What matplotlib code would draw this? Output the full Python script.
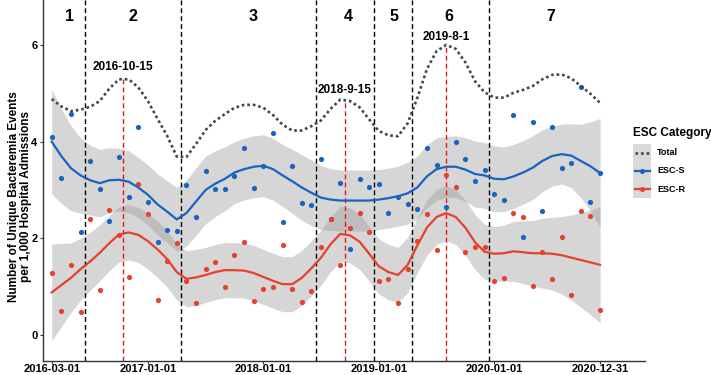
import numpy as np
import pandas as pd
import matplotlib
matplotlib.use("Agg")
import matplotlib.pyplot as plt
from matplotlib.lines import Line2D
from matplotlib.patches import Rectangle

plt.rcParams['font.family'] = ['Liberation Sans', 'DejaVu Sans']
plt.rcParams['font.weight'] = 'bold'

# ---------------- data ----------------
months = pd.period_range('2016-03', '2020-12', freq='M')

esc_s = [4.10, 3.24, 4.57, 2.12, 3.59, 3.01, 2.36, 3.68, 2.86, 4.30,
         2.74, 1.92, 2.17, 2.14, 3.10, 2.45, 3.39, 3.01, 3.01, 3.29,
         3.87, 3.03, 3.50, 4.17, 2.34, 3.50, 2.72, 2.69, 3.65, 2.40,
         3.14, 1.77, 3.22, 3.07, 3.12, 2.53, 2.85, 2.70, 2.60, 3.87,
         3.51, 2.64, 3.99, 3.64, 3.18, 3.41, 2.91, 2.79, 4.55, 2.03,
         4.40, 2.56, 4.31, 3.46, 3.55, 5.12, 2.75, 3.34]
esc_r = [1.28, 0.50, 1.45, 0.48, 2.40, 0.93, 2.59, 2.07, 1.19, 3.12,
         2.51, 0.72, 1.53, 1.90, 1.12, 0.67, 1.36, 1.51, 1.00, 1.65,
         1.93, 0.70, 0.94, 0.99, 1.87, 0.94, 0.68, 0.90, 1.82, 2.40,
         1.45, 2.21, 2.53, 2.12, 1.11, 1.15, 0.66, 1.36, 1.95, 2.50,
         1.76, 3.30, 3.06, 1.72, 1.82, 1.82, 1.12, 1.17, 2.53, 2.43,
         1.01, 1.72, 1.15, 2.02, 0.82, 2.56, 2.47, 0.52]

# smoothed fits and half-widths of their bands
esc_s_fit = [4.00, 3.70, 3.45, 3.30, 3.20, 3.14, 3.20, 3.21, 3.17, 3.05,
             2.90, 2.70, 2.55, 2.39, 2.52, 2.76, 3.00, 3.13, 3.23, 3.36,
             3.43, 3.48, 3.50, 3.43, 3.30, 3.18, 3.05, 2.94, 2.84, 2.80,
             2.78, 2.78, 2.78, 2.78, 2.80, 2.83, 2.87, 2.93, 3.05, 3.28,
             3.43, 3.48, 3.48, 3.42, 3.33, 3.30, 3.23, 3.22, 3.28, 3.36,
             3.46, 3.60, 3.70, 3.74, 3.71, 3.60, 3.49, 3.35]
esc_r_fit = [0.88, 1.03, 1.18, 1.36, 1.52, 1.70, 1.90, 2.08, 2.12, 2.07,
             1.94, 1.77, 1.57, 1.30, 1.16, 1.19, 1.24, 1.30, 1.34, 1.34,
             1.33, 1.28, 1.20, 1.12, 1.05, 1.05, 1.18, 1.38, 1.60, 1.88,
             2.09, 2.06, 1.93, 1.68, 1.42, 1.30, 1.24, 1.45, 1.85, 2.22,
             2.44, 2.52, 2.44, 2.22, 1.92, 1.72, 1.68, 1.69, 1.73, 1.71,
             1.69, 1.69, 1.68, 1.65, 1.60, 1.55, 1.50, 1.45]
esc_s_se = [1.08, 0.98, 0.88, 0.78, 0.72, 0.70, 0.67, 0.65, 0.64, 0.62,
            0.62, 0.63, 0.64, 0.66, 0.68, 0.70, 0.70, 0.68, 0.66, 0.64,
            0.64, 0.64, 0.64, 0.64, 0.64, 0.66, 0.68, 0.68, 0.66, 0.64,
            0.63, 0.63, 0.63, 0.63, 0.62, 0.62, 0.62, 0.64, 0.65, 0.65,
            0.65, 0.63, 0.64, 0.66, 0.68, 0.68, 0.68, 0.67, 0.66, 0.66,
            0.66, 0.64, 0.62, 0.62, 0.66, 0.76, 0.92, 1.13]
esc_r_se = [1.00, 0.86, 0.72, 0.64, 0.60, 0.58, 0.57, 0.57, 0.57, 0.57,
            0.58, 0.58, 0.58, 0.58, 0.58, 0.58, 0.57, 0.57, 0.57, 0.57,
            0.57, 0.57, 0.57, 0.57, 0.57, 0.57, 0.57, 0.57, 0.57, 0.57,
            0.57, 0.57, 0.57, 0.57, 0.57, 0.57, 0.57, 0.57, 0.57, 0.57,
            0.57, 0.57, 0.57, 0.57, 0.57, 0.57, 0.56, 0.58, 0.62, 0.65,
            0.68, 0.72, 0.75, 0.80, 0.88, 0.98, 1.08, 1.20]

period_breaks = ['2016-06-15', '2017-04-15', '2018-06-15',
                 '2018-12-15', '2019-04-15', '2019-12-15']
event_dates = ['2016-10-15', '2018-9-15', '2019-8-1']
event_label_y = [5.55, 5.07, 6.16]
period_labels = ['1', '2', '3', '4', '5', '6', '7']
period_label_dates = ['2016-04-25', '2016-11-15', '2017-11-28', '2018-09-25',
                      '2019-02-18', '2019-08-10', '2020-06-28']
tick_labels = ['2016-03-01', '2017-01-01', '2018-01-01',
               '2019-01-01', '2020-01-01', '2020-12-31']
legend_labels = ['Total', 'ESC-S', 'ESC-R']

# ---------------- helpers ----------------
start = months[0]


def mpos(s):
    d = pd.Timestamp(s)
    return (d.year - start.year) * 12 + (d.month - start.month) + (d.day - 1) / d.days_in_month


def mtick(s):
    return (pd.Period(s, freq='M') - start).n


W, H = 711, 375


def fx(px):
    return px / W


def fy(py):
    return 1 - py / H


x = np.arange(len(months))
s_fit = np.array(esc_s_fit)
r_fit = np.array(esc_r_fit)
s_se = np.array(esc_s_se)
r_se = np.array(esc_r_se)
total_fit = s_fit + r_fit

BLUE = '#1763C2'
RED = '#E5412B'
TOTAL = '#3D4754'
RIB = '#999999'
DOTTED = (0, (1, 1.1))
DASHED = (0, (3.5, 2.2))

fig = plt.figure(figsize=(7.11, 3.75), dpi=100)
ax = fig.add_axes([fx(43), 1 - fy(0) + (H - 361) / H, fx(645) - fx(43), 361 / H])

ax.fill_between(x, s_fit - s_se, s_fit + s_se, color=RIB, alpha=0.4, lw=0, zorder=1)
ax.fill_between(x, r_fit - r_se, r_fit + r_se, color=RIB, alpha=0.4, lw=0, zorder=1)

ax.scatter(x, esc_s, s=14, color=BLUE, linewidths=0, zorder=3)
ax.scatter(x, esc_r, s=14, color=RED, linewidths=0, zorder=3)

ax.plot(x, s_fit, color=BLUE, lw=1.6, zorder=4)
ax.plot(x, r_fit, color=RED, lw=1.6, zorder=4)
ax.plot(x, total_fit, color=TOTAL, lw=1.9, ls=DOTTED, zorder=4)

ylim = (-0.54, 6.93)
for b in period_breaks:
    ax.axvline(mpos(b), color='black', lw=1.0, ls=DASHED, zorder=2)

for e, ly in zip(event_dates, event_label_y):
    p = mpos(e)
    top = np.interp(p, x, total_fit)
    ax.vlines(p, ylim[0], top, color='#F0141E', lw=1.0, ls=DASHED, zorder=2)
    ax.text(p, ly, e, ha='center', va='center', fontsize=8.5,
            fontweight='bold', color='black', zorder=6)

trans = ax.get_xaxis_transform()
for lab, d in zip(period_labels, period_label_dates):
    ax.text(mpos(d), 0.953, lab, transform=trans, ha='center', va='center',
            fontsize=11.5, fontweight='bold')

ax.set_xlim(-0.904, 61.67)
ax.set_ylim(*ylim)
ax.set_xticks([mtick(t) for t in tick_labels])
ax.set_xticklabels(tick_labels)
ax.set_yticks([0, 2, 4, 6])
ax.tick_params(axis='x', length=2, width=0.8, color='#333333', labelsize=8, pad=0.3)
ax.tick_params(axis='y', length=2.5, width=0.8, color='#333333', labelsize=8, pad=1.5)
for side in ['top', 'right']:
    ax.spines[side].set_visible(False)
for side in ['left', 'bottom']:
    ax.spines[side].set_color('#333333')
    ax.spines[side].set_linewidth(1.0)

fig.text(fx(20), fy(197),
         'Number of Unique Bacteremia Events\nper 1,000 Hospital Admissions',
         rotation=90, ha='center', va='center', multialignment='center',
         fontsize=8.5, fontweight='bold', linespacing=1.1)

# ---------------- legend ----------------
fig.text(fx(633), fy(133), 'ESC Category', ha='left', va='center',
         fontsize=8.5, fontweight='bold')
key_top, key_h = 143.5, 18.3
fig.add_artist(Rectangle((fx(633), fy(key_top + 3 * key_h)), fx(651) - fx(633),
                         3 * key_h / H, transform=fig.transFigure,
                         facecolor='#D9D9D9', edgecolor='none'))
styles = [dict(color=TOTAL, lw=1.9, ls=DOTTED),
          dict(color=BLUE, lw=1.6),
          dict(color=RED, lw=1.6)]
for k, (lab, st) in enumerate(zip(legend_labels, styles)):
    yc = key_top + key_h * (k + 0.5)
    fig.add_artist(Line2D([fx(635), fx(649.5)], [fy(yc), fy(yc)],
                          transform=fig.transFigure, **st))
    if k > 0:
        fig.add_artist(Line2D([fx(642.2)], [fy(yc)], transform=fig.transFigure,
                              marker='o', ms=3.6, mew=0, color=st['color'], ls='none'))
    fig.text(fx(657), fy(yc), lab, ha='left', va='center', fontsize=6.5,
             fontweight='bold')

fig.savefig('out.png', dpi=100)
